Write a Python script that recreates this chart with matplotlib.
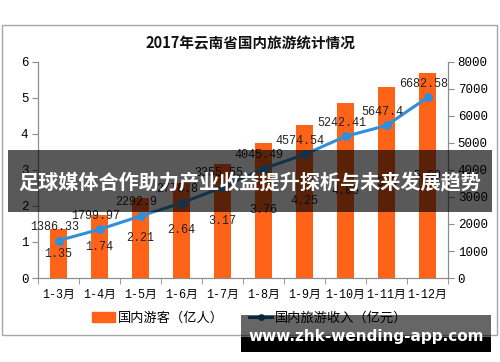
import matplotlib
matplotlib.use("Agg")
import matplotlib.pyplot as plt
from matplotlib.patches import Rectangle
from matplotlib.lines import Line2D
import numpy as np

months = ["1-3月", "1-4月", "1-5月", "1-6月", "1-7月", "1-8月", "1-9月", "1-10月", "1-11月", "1-12月"]
visitors = [1.35, 1.74, 2.21, 2.64, 3.17, 3.76, 4.25, 4.85, 5.30, 5.69]
revenue = [1386.33, 1799.97, 2292.9, 2778.8, 3355.55, 4045.49, 4574.54, 5242.41, 5647.4, 6682.58]
visitor_labels = ["1.35", "1.74", "2.21", "2.64", "3.17", "3.76", "4.25", "4.85", "5.3", "5.69"]
revenue_labels = ["1386.33", "1799.97", "2292.9", "2778.8", "3355.55", "4045.49", "4574.54", "5242.41", "5647.4", "6682.58"]

mono = ["Liberation Mono", "Noto Sans CJK SC"]
cjk = ["Noto Sans CJK SC", "DejaVu Sans"]
orange = "#FF6318"
blue = "#2F8FDB"
gray = "#8C8C8C"

fig = plt.figure(figsize=(5, 3.62), dpi=100)
fig.patch.set_facecolor("white")

# chart frame
fig.patches.append(Rectangle((2 / 500, 1 - 335 / 362), 495 / 500, 310 / 362,
                             transform=fig.transFigure, fill=False,
                             edgecolor="#A6A6A6", linewidth=1))

ax = fig.add_axes([0.076, 0.232, 0.82, 0.597])
x = np.arange(len(months))
ax.bar(x, visitors, width=0.4, color=orange, zorder=2)
ax.set_ylim(0, 6)
ax.set_xlim(-0.5, len(months) - 0.5)
ax.set_yticks(range(0, 7))
ax.set_yticklabels([str(i) for i in range(0, 7)], family=mono, fontsize=9)
ax.set_xticks(x)
ax.set_xticklabels(months, family=mono, fontsize=8.5)
ax.tick_params(axis="x", which="major", length=0, pad=8)
ax.set_xticks(np.arange(-0.5, len(months)), minor=True)
ax.tick_params(axis="x", which="minor", length=4, color=gray)
ax.tick_params(axis="y", length=4, color=gray, pad=3)
ax.spines["top"].set_visible(False)
for s in ["left", "bottom", "right"]:
    ax.spines[s].set_color(gray)

for xi, v, lab in zip(x, visitors, visitor_labels):
    ax.text(xi, v / 2, lab, ha="center", va="center", family=mono, fontsize=8.5, color="#222222", zorder=4)

ax2 = ax.twinx()
ax2.plot(x, revenue, color=blue, linewidth=2.2, marker="o", markersize=5.5, zorder=3)
ax2.set_ylim(0, 8000)
ax2.set_yticks(range(0, 8001, 1000))
ax2.set_yticklabels([str(i) for i in range(0, 8001, 1000)], family=mono, fontsize=9)
ax2.tick_params(axis="y", length=4, color=gray, pad=3)
ax2.spines["top"].set_visible(False)
for s in ["left", "bottom", "right"]:
    ax2.spines[s].set_color(gray)
for xi, v, lab in zip(x, revenue, revenue_labels):
    ax2.annotate(lab, (xi, v), xytext=(-3, 10), textcoords="offset points",
                 ha="center", va="center", family=mono, fontsize=8.5, color="#222222")

fig.text(0.5, 1 - 43 / 362, "2017年云南省国内旅游统计情况", ha="center", va="center",
         family=cjk, fontsize=10.5, fontweight="bold", color="#111111")

# legend
handles = [Rectangle((0, 0), 1, 1, color=orange),
           Line2D([0], [0], color="#1F5F94", linewidth=2.2, marker="o", markersize=4)]
fig.legend(handles, ["国内游客（亿人）", "国内旅游收入（亿元）"], loc="center",
           bbox_to_anchor=(0.5, 1 - 318 / 362), ncol=2, frameon=False,
           prop={"family": cjk, "size": 9.5}, handlelength=1.7, handletextpad=0.25,
           columnspacing=1.9)

# overlay banner
fig.patches.append(Rectangle((8 / 500, 1 - 212 / 362), 484 / 500, 62 / 362,
                             transform=fig.transFigure, facecolor="black", alpha=0.65,
                             edgecolor="none", zorder=10))
fig.text(0.5, 1 - 183 / 362, "足球媒体合作助力产业收益提升探析与未来发展趋势", ha="center", va="center",
         family=cjk, fontsize=14.5, fontweight="bold", color="white", zorder=11)

# bottom url band
fig.patches.append(Rectangle((241 / 500, 1 - 337 / 362), 250 / 500, 22 / 362,
                             transform=fig.transFigure, facecolor="black", alpha=0.6,
                             edgecolor="none", zorder=10))
fig.patches.append(Rectangle((241 / 500, 1 - 352 / 362), 250 / 500, 15 / 362,
                             transform=fig.transFigure, facecolor="black",
                             edgecolor="none", zorder=10))
fig.text(366 / 500, 1 - 337 / 362, "www.zhk-wending-app.com", ha="center", va="center",
         family=["DejaVu Sans"], fontsize=11, fontweight="bold", color="white", zorder=11)

fig.savefig("out.png", dpi=100)
